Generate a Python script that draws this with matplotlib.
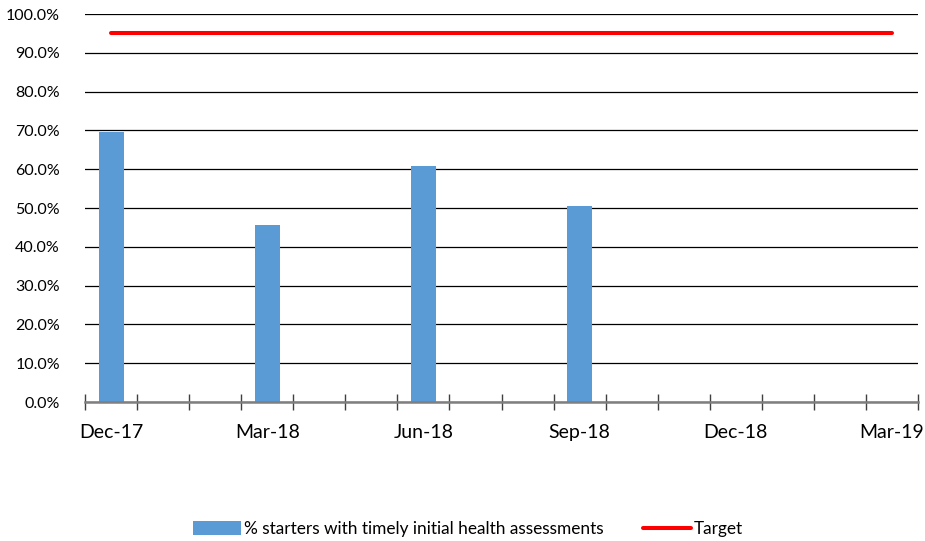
import numpy as np
import matplotlib.pyplot as plt
from matplotlib.ticker import FuncFormatter

months = ['Dec-17', 'Jan-18', 'Feb-18', 'Mar-18', 'Apr-18', 'May-18', 'Jun-18', 'Jul-18',
          'Aug-18', 'Sep-18', 'Oct-18', 'Nov-18', 'Dec-18', 'Jan-19', 'Feb-19', 'Mar-19']
bar_months = ['Dec-17', 'Mar-18', 'Jun-18', 'Sep-18']
bar_values = [0.695, 0.456, 0.609, 0.506]
target = 0.95
label_months = ['Dec-17', 'Mar-18', 'Jun-18', 'Sep-18', 'Dec-18', 'Mar-19']

plt.rcParams['font.family'] = ['Lato', 'DejaVu Sans']

fig = plt.figure(figsize=(9.25, 5.41), dpi=100)
ax = fig.add_axes([85/925, 1 - 402/541, 833/925, 388/541])

pos = {m: i for i, m in enumerate(months)}
bx = [pos[m] for m in bar_months]
b = ax.bar(bx, bar_values, width=0.48, color='#5B9BD5', zorder=2,
           label='% starters with timely initial health assessments')
t, = ax.plot([0, len(months) - 1], [target, target], color='#FF0000', lw=2.9,
             solid_capstyle='round', zorder=3, label='Target')

ax.set_xlim(-0.5, len(months) - 0.5)
ax.set_ylim(0, 1.0)
ax.set_yticks(np.arange(0, 1.01, 0.1))
ax.yaxis.set_major_formatter(FuncFormatter(lambda v, p: f'{v*100:.1f}%'))
ax.tick_params(axis='y', length=0, pad=18, labelsize=11.5)
ax.grid(axis='y', color='black', lw=0.9, zorder=1)
ax.set_axisbelow(True)

# tick marks between months, labels centred on quarter months
ax.set_xticks(np.arange(-0.5, len(months), 1.0))
ax.set_xticklabels([])
ax.tick_params(axis='x', which='major', direction='inout', length=11, width=1, color='#404040')
ax.set_xticks([pos[m] for m in label_months], minor=True)
ax.set_xticklabels(label_months, minor=True)
ax.tick_params(axis='x', which='minor', length=0, pad=16, labelsize=14)

for s in ['top', 'right', 'left']:
    ax.spines[s].set_visible(False)
ax.spines['bottom'].set_color('#7f7f7f')
ax.spines['bottom'].set_linewidth(1.8)
ax.spines['bottom'].set_zorder(4)

fig.legend(handles=[b, t], loc='center', bbox_to_anchor=(0.506, 0.022), ncol=2,
           frameon=False, fontsize=12.4, handlelength=2.8, handleheight=0.85,
           handletextpad=0.17, columnspacing=2.25)

fig.savefig('out.png', dpi=100)
